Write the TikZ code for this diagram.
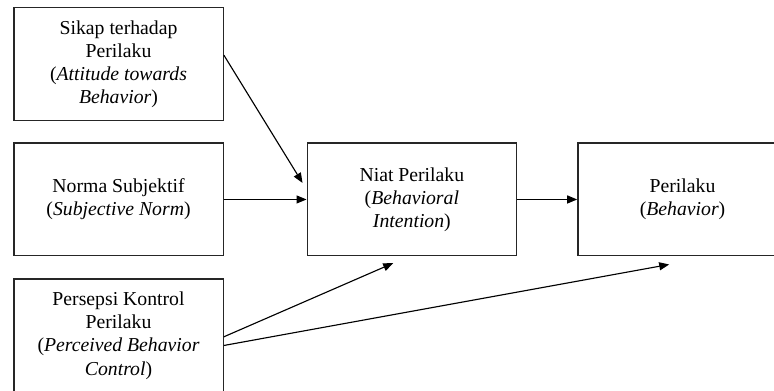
\documentclass[tikz,border=0pt]{standalone}
\usepackage{fontspec}
\setmainfont{Liberation Serif}
\usetikzlibrary{arrows.meta,positioning}

\begin{document}
\begin{tikzpicture}[
  node distance=16pt and 62pt,
  box/.style={draw,line width=1pt,draw=black!85,align=center,minimum height=84.5pt,minimum width=157pt,inner sep=2pt,font=\fontsize{14.8}{17.4}\selectfont},
  arr/.style={-{Triangle[length=7.5pt,width=6pt]},line width=0.85pt}
]
\useasboundingbox (-88.9pt,-142.9pt) rectangle (491.6pt,149.6pt);
\node[box] (norma) {Norma Subjektif\\(\textit{Subjective Norm})};
\node[box,above=of norma] (sikap) {Sikap terhadap\\Perilaku\\(\textit{Attitude towards}\\\textit{Behavior})};
\node[box,below=16.5pt of norma] (kontrol) {Persepsi Kontrol\\Perilaku\\(\textit{Perceived Behavior}\\\textit{Control})};
\node[box,right=of norma] (niat) {Niat Perilaku\\(\textit{Behavioral}\\\textit{Intention})};
\node[box,right=45pt of niat] (perilaku) {Perilaku\\(\textit{Behavior})};
\draw[arr] ([yshift=6.75pt]sikap.east) -- ([yshift=12.4pt,xshift=-3pt]niat.west);
\draw[arr] (norma) -- (niat);
\draw[arr] (niat) -- (perilaku);
\draw[arr] ([yshift=-1pt]kontrol.east) -- ([xshift=-14pt,yshift=-5pt]niat.south);
\draw[arr] ([yshift=-7.5pt]kontrol.east) -- ([xshift=-10pt,yshift=-6pt]perilaku.south);
\end{tikzpicture}
\end{document}
